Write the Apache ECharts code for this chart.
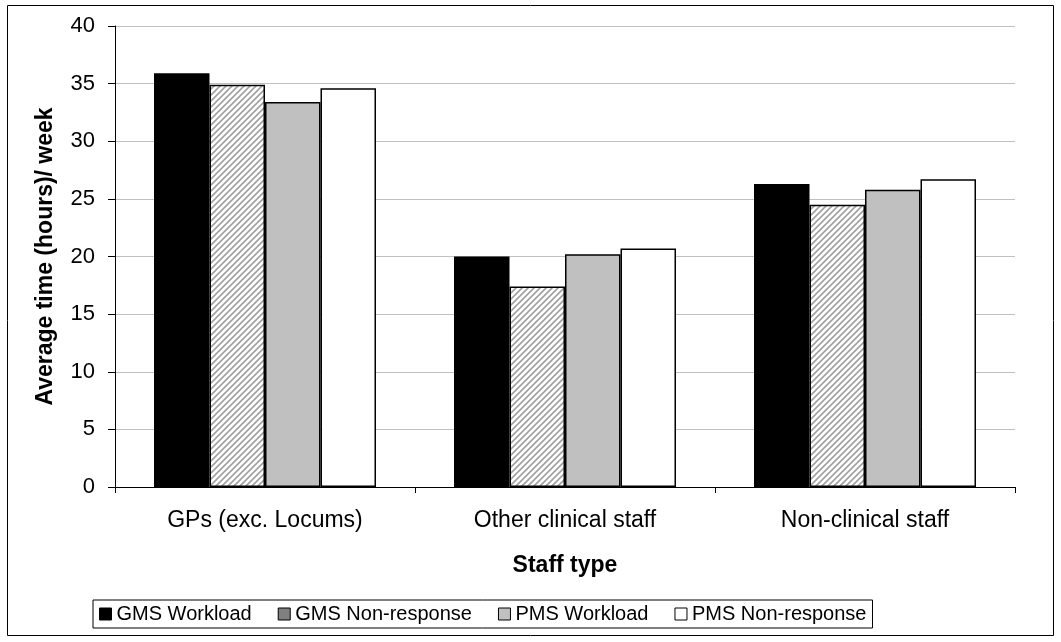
<!DOCTYPE html>
<html>
<head>
<meta charset="utf-8">
<script src="https://cdn.jsdelivr.net/npm/echarts@6/dist/echarts.min.js"></script>
<style>
  html,body{margin:0;padding:0;background:#fff}
  #main{width:1061px;height:642px}
</style>
</head>
<body>
<div id="main"></div>
<script>
const categories=['GPs (exc. Locums)','Other clinical staff','Non-clinical staff']
const gmsWorkload=[35.9,20.0,26.3]
const gmsNonResponse=[34.9,17.4,24.5]
const pmsWorkload=[33.4,20.2,25.8]
const pmsNonResponse=[34.6,20.7,26.7]
const seriesNames=['GMS Workload','GMS Non-response','PMS Workload','PMS Non-response']

// hatch pattern for GMS Non-response
function makeHatch(){
  const c=document.createElement('canvas')
  c.width=6;c.height=6
  const ctx=c.getContext('2d')
  ctx.fillStyle='#fff'
  ctx.fillRect(0,0,6,6)
  ctx.strokeStyle='#a0a0a0'
  ctx.lineWidth=1.6
  ctx.beginPath()
  ctx.moveTo(-1,7);ctx.lineTo(7,-1)
  ctx.moveTo(-4,4);ctx.lineTo(4,-4)
  ctx.moveTo(2,10);ctx.lineTo(10,2)
  ctx.stroke()
  return c
}

const myChart=echarts.init(document.querySelector('#main'))
const font='"Liberation Sans", Arial, sans-serif'
const barStyle=(fill)=>({color:fill,borderColor:'#000',borderWidth:1.5})

const option={
  animation:false,
  textStyle:{fontFamily:font},
  graphic:[{
    type:'rect',
    shape:{x:7.5,y:5.5,width:1046,height:630},
    style:{fill:'none',stroke:'#000',lineWidth:1},
    silent:true
  }],
  grid:{left:115,right:46,top:26,bottom:155},
  legend:{
    bottom:14,
    left:93,
    icon:'rect',
    itemWidth:12,
    itemHeight:12,
    itemGap:26,
    padding:[4,6,4,6],
    borderColor:'#000',
    borderWidth:1,
    borderRadius:0,
    textStyle:{fontSize:20,color:'#000',fontFamily:font},
    data:[
      {name:seriesNames[0],itemStyle:{color:'#000',borderColor:'#000',borderWidth:1}},
      {name:seriesNames[1],itemStyle:{color:'#808080',borderColor:'#000',borderWidth:1}},
      {name:seriesNames[2],itemStyle:{color:'#c0c0c0',borderColor:'#000',borderWidth:1}},
      {name:seriesNames[3],itemStyle:{color:'#fff',borderColor:'#000',borderWidth:1}}
    ]
  },
  xAxis:{
    type:'category',
    data:categories,
    name:'Staff type',
    nameLocation:'middle',
    nameGap:67,
    nameTextStyle:{fontSize:23,fontWeight:'bold',color:'#000'},
    axisLine:{lineStyle:{color:'#000',width:1}},
    axisTick:{show:true,length:6,lineStyle:{color:'#000'}},
    axisLabel:{fontSize:23,color:'#000',margin:22}
  },
  yAxis:{
    type:'value',
    min:0,
    max:40,
    interval:5,
    name:'Average time (hours)/ week',
    nameLocation:'middle',
    nameGap:58,
    nameTextStyle:{fontSize:23,fontWeight:'bold',color:'#000'},
    axisLine:{show:true,lineStyle:{color:'#000',width:1}},
    axisTick:{show:true,length:7,lineStyle:{color:'#000'}},
    axisLabel:{fontSize:22,color:'#000',margin:20},
    splitLine:{lineStyle:{color:'#c0c0c0',width:1}}
  },
  series:[
    {name:seriesNames[0],type:'bar',data:gmsWorkload,itemStyle:barStyle('#000'),barGap:'0%',barCategoryGap:'26%'},
    {name:seriesNames[1],type:'bar',data:gmsNonResponse,itemStyle:barStyle({image:makeHatch(),repeat:'repeat'})},
    {name:seriesNames[2],type:'bar',data:pmsWorkload,itemStyle:barStyle('#c0c0c0')},
    {name:seriesNames[3],type:'bar',data:pmsNonResponse,itemStyle:barStyle('#fff')}
  ]
}
myChart.setOption(option)
</script>
</body>
</html>
